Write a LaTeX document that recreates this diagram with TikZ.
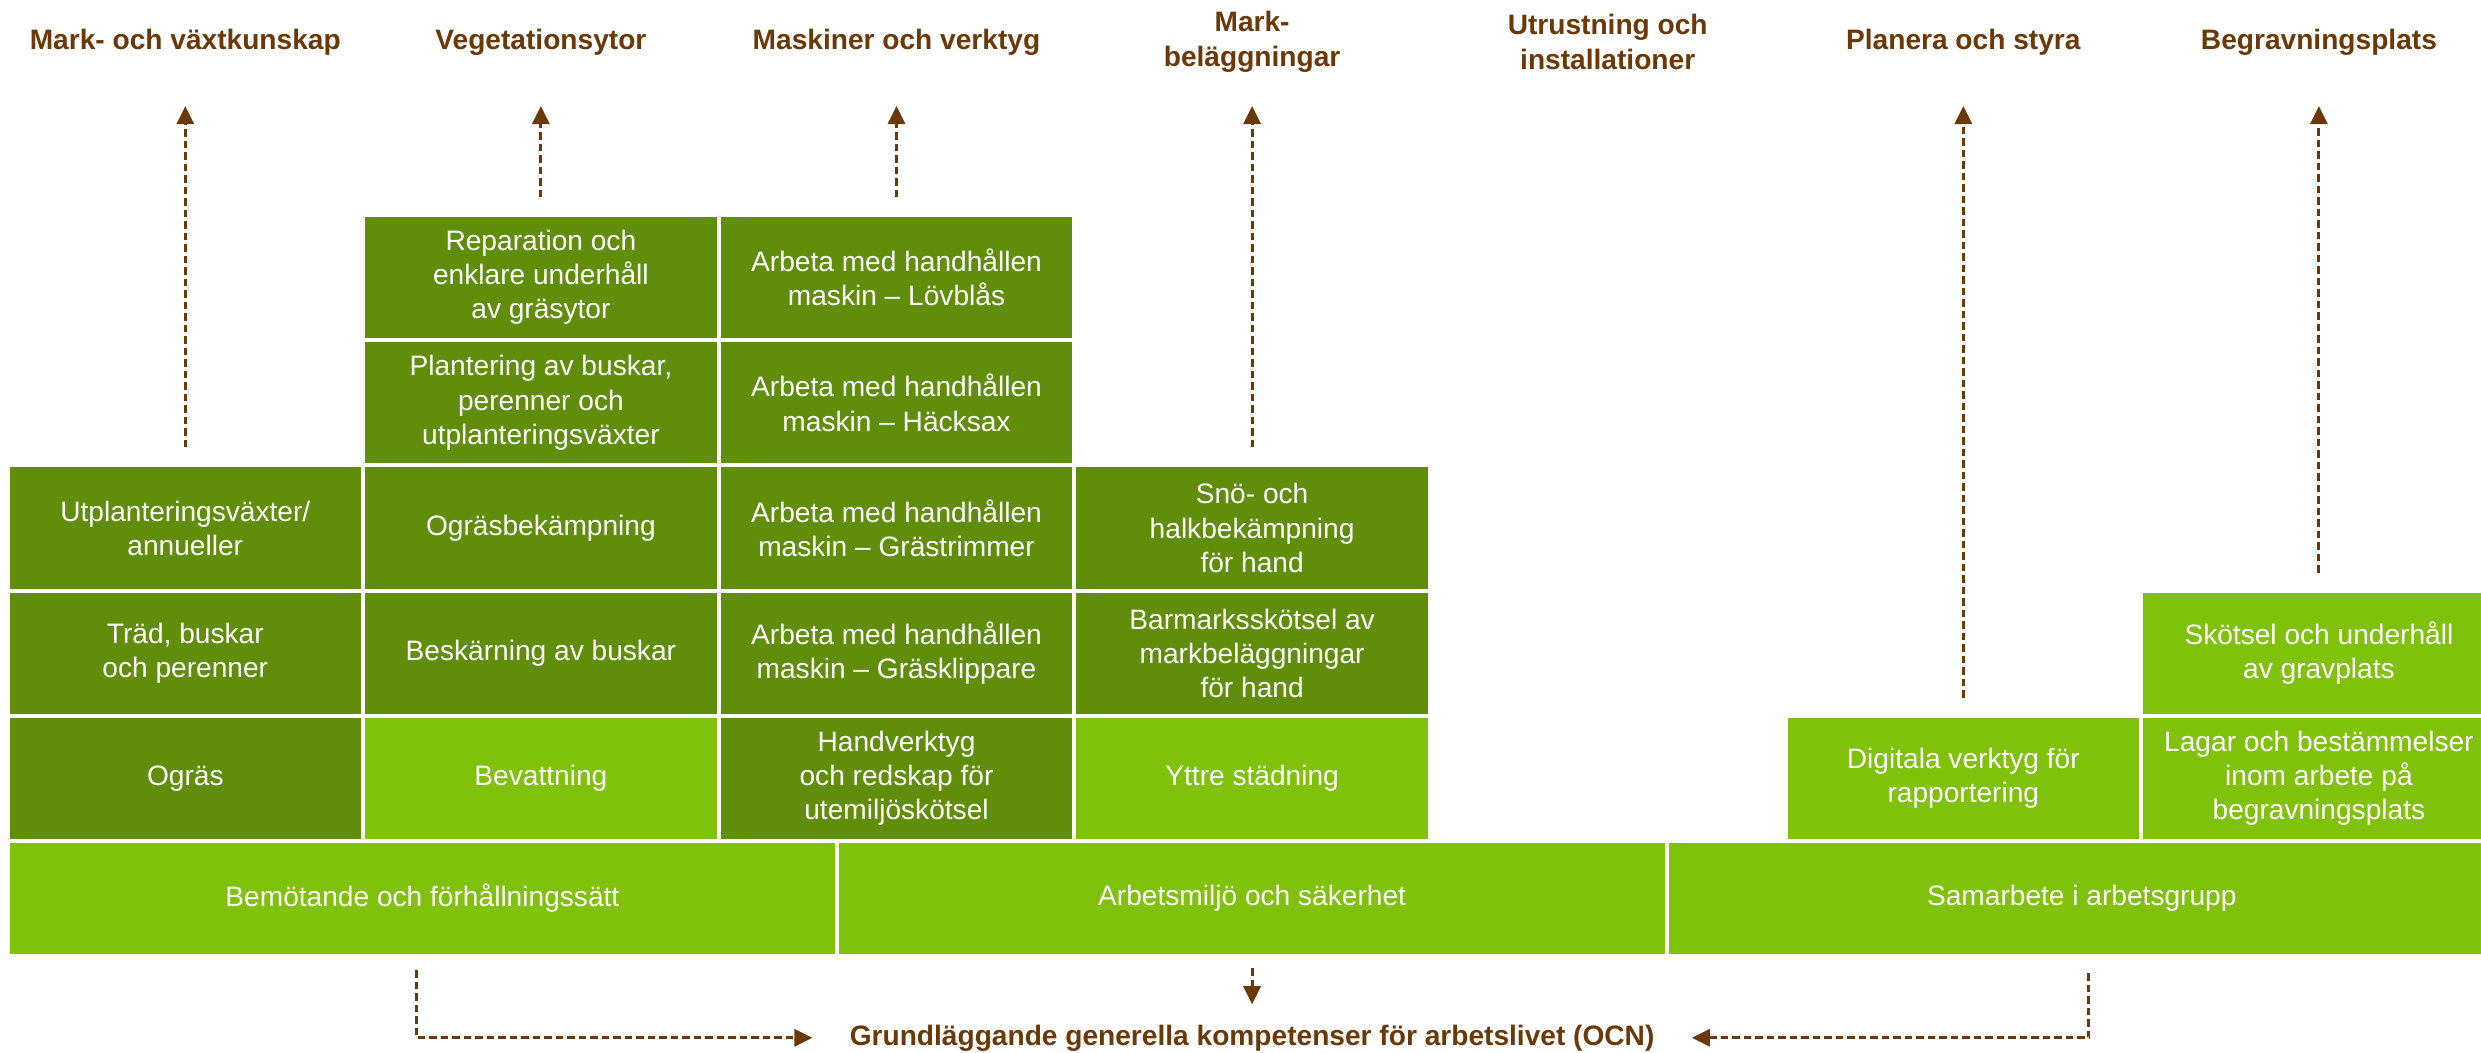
\documentclass[tikz,border=0pt]{standalone}
\usepackage{fontspec}
\setmainfont{Liberation Sans}
\usetikzlibrary{arrows.meta}
\definecolor{darkgr}{RGB}{96,142,10}
\definecolor{lightgr}{RGB}{128,193,12}
\definecolor{brun}{RGB}{107,56,8}

\begin{document}
\begin{tikzpicture}[x=0.1mm, y=-0.1mm, >={Triangle[length=1.8mm,width=1.7mm]},
	box/.style={draw=white, line width=0.4mm, text=white, minimum width=35.56mm, minimum height=12.52mm, inner sep=0pt, outer sep=0pt, align=center, font=\fontsize{8}{9.7}\selectfont},
	dark/.style={box, fill=darkgr},
	light/.style={box, fill=lightgr},
	band/.style={light, minimum width=82.97mm, minimum height=11.5mm},
	title/.style={text=brun, align=center, font=\bfseries\fontsize{8}{10}\selectfont},
	flow/.style={->, brun, line width=0.3mm, dash pattern=on 0.75mm off 0.4mm}]
	\useasboundingbox (0,0) rectangle (2481,1052);

	\node[title] (t1) at (185.3,42) {Mark- och växtkunskap};
	\node[title] (t2) at (540.9,42) {Vegetationsytor};
	\node[title] (t3) at (896.5,42) {Maskiner och verktyg};
	\node[title] (t4) at (1252.1,42) {Mark-\\beläggningar};
	\node[title] (t5) at (1607.7,42) {Utrustning och\\installationer};
	\node[title] (t6) at (1963.3,42) {Planera och styra};
	\node[title] (t7) at (2318.9,42) {Begravningsplats};

	\node[dark] (r1c2) at (540.9,277.6) {Reparation och\\enklare underhåll\\av gräsytor};
	\node[dark] (r1c3) at (896.5,277.6) {Arbeta med handhållen\\maskin – Lövblås};
	\node[dark] (r2c2) at (540.9,402.8) {Plantering av buskar,\\perenner och\\utplanteringsväxter};
	\node[dark] (r2c3) at (896.5,402.8) {Arbeta med handhållen\\maskin – Häcksax};
	\node[dark] (r3c1) at (185.3,528) {Utplanteringsväxter/\\annueller};
	\node[dark] (r3c2) at (540.9,528) {Ogräsbekämpning};
	\node[dark] (r3c3) at (896.5,528) {Arbeta med handhållen\\maskin – Grästrimmer};
	\node[dark] (r3c4) at (1252.1,528) {Snö- och\\halkbekämpning\\för hand};
	\node[dark] (r4c1) at (185.3,653.2) {Träd, buskar\\och perenner};
	\node[dark] (r4c2) at (540.9,653.2) {Beskärning av buskar};
	\node[dark] (r4c3) at (896.5,653.2) {Arbeta med handhållen\\maskin – Gräsklippare};
	\node[dark] (r4c4) at (1252.1,653.2) {Barmarksskötsel av\\markbeläggningar\\för hand};
	\node[light] (r4c7) at (2318.9,653.2) {Skötsel och underhåll\\av gravplats};
	\node[dark] (r5c1) at (185.3,778.4) {Ogräs};
	\node[light] (r5c2) at (540.9,778.4) {Bevattning};
	\node[dark] (r5c3) at (896.5,778.4) {Handverktyg\\och redskap för\\utemiljöskötsel};
	\node[light] (r5c4) at (1252.1,778.4) {Yttre städning};
	\node[light] (r5c6) at (1963.3,778.4) {Digitala verktyg för\\rapportering};
	\node[light] (r5c7) at (2318.9,778.4) {Lagar och bestämmelser\\inom arbete på\\begravningsplats};

	\node[band] (b1) at (422.4,898.5) {Bemötande och förhållningssätt};
	\node[band] (b2) at (1252.1,898.5) {Arbetsmiljö och säkerhet};
	\node[band] (b3) at (2081.8,898.5) {Samarbete i arbetsgrupp};

	\node[title, anchor=base] (ocn) at (1252.1,1045) {Grundläggande generella kompetenser för arbetslivet (OCN)};

	\coordinate (tip) at (0,106);
	\foreach \n in {r3c1,r1c2,r1c3,r3c4,r5c6,r4c7}
		\draw[flow, shorten <=1.8mm] (\n.north) -- (\n.north |- tip);

	\draw[flow, shorten <=1.4mm, shorten >=2.5mm] ([xshift=-0.6mm]b1.south) |- (ocn.west);
	\draw[flow, shorten <=1.2mm, shorten >=0.8mm] (b2.south) -- (ocn.north);
	\draw[flow, shorten <=1.7mm, shorten >=2.5mm] ([xshift=0.7mm]b3.south) |- (ocn.east);
\end{tikzpicture}
\end{document}
